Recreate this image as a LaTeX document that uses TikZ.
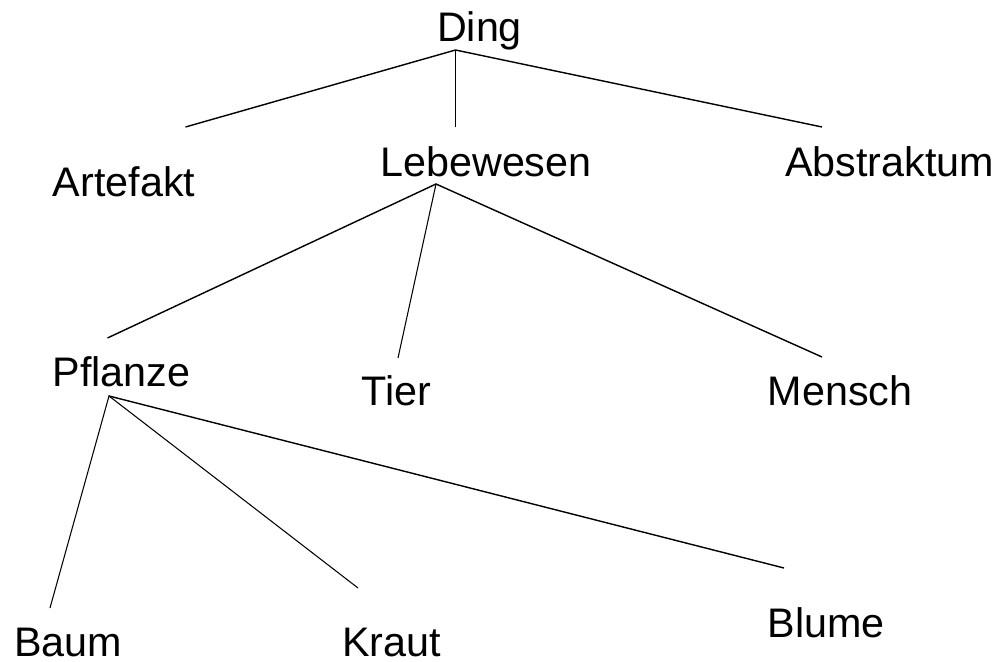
\documentclass[tikz,border=0pt]{standalone}
\usepackage{fontspec}
\setmainfont{Liberation Sans}
\begin{document}
\begin{tikzpicture}[x=0.02cm,y=-0.02cm,line width=0.8pt,
		word/.style={anchor=base,inner sep=0pt,font=\fontsize{23.5pt}{28pt}\selectfont}]
		\useasboundingbox (0,0) rectangle (998,662);
		% words
		\node [word] (ding) at (479.5,42) {Ding};
		\node [word] (artefakt) at (124,197) {Artefakt};
		\node [word] (lebewesen) at (486,177) {Lebewesen};
		\node [word] (abstraktum) at (889.5,177) {Abstraktum};
		\node [word] (pflanze) at (121.5,387) {Pflanze};
		\node [word] (tier) at (396.5,405) {Tier};
		\node [word] (mensch) at (840,405) {Mensch};
		\node [word] (baum) at (68,656) {Baum};
		\node [word] (kraut) at (391.5,656) {Kraut};
		\node [word] (blume) at (826,637) {Blume};
		% line ends
		\coordinate (ding-s) at (455.5,50);
		\coordinate (artefakt-n) at (185.5,127);
		\coordinate (lebewesen-n) at (455.5,127);
		\coordinate (abstraktum-n) at (822,127);
		\coordinate (lebewesen-s) at (436,184);
		\coordinate (pflanze-n) at (107.5,338);
		\coordinate (tier-n) at (398,358);
		\coordinate (mensch-n) at (822,357);
		\coordinate (pflanze-s) at (109,396);
		\coordinate (baum-n) at (50,608);
		\coordinate (kraut-n) at (358,588);
		\coordinate (blume-n) at (784,568);
		% branches
		\draw (artefakt-n) -- (ding-s) -- (abstraktum-n);
		\draw [line width=0.6pt] (ding-s) -- (lebewesen-n);
		\draw (pflanze-n) -- (lebewesen-s) -- (mensch-n);
		\draw [line width=0.6pt] (lebewesen-s) -- (tier-n);
		\draw [line width=0.6pt] (baum-n) -- (pflanze-s) -- (kraut-n);
		\draw (pflanze-s) -- (blume-n);
\end{tikzpicture}
\end{document}
